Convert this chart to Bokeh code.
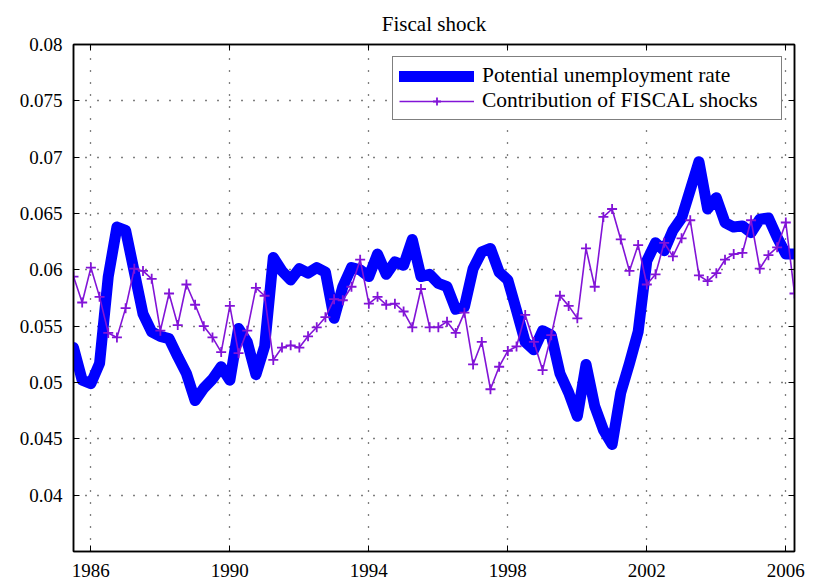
import numpy as np
from bokeh.plotting import figure
from bokeh.models import (FixedTicker, CustomJSTickFormatter, LinearAxis, Legend,
                          LegendItem, ColumnDataSource)
from bokeh.embed import file_html
from bokeh.resources import INLINE

# Quarterly dates 1985Q3 .. 2006Q2
dates = [1985.5 + 0.25 * i for i in range(84)]

potential_unemployment = [
    0.0531, 0.0502, 0.0499, 0.0517, 0.0594, 0.0638, 0.0635, 0.0598, 0.0561, 0.0545,
    0.0541, 0.0539, 0.0523, 0.0508, 0.0484, 0.0495, 0.0503, 0.0514, 0.0502, 0.0548,
    0.0536, 0.0507, 0.0532, 0.0611, 0.0599, 0.0591, 0.0601, 0.0597, 0.0602, 0.0598,
    0.0557, 0.0585, 0.0602, 0.0600, 0.0594, 0.0614, 0.0596, 0.0607, 0.0604, 0.0627,
    0.0594, 0.0596, 0.0588, 0.0585, 0.0565, 0.0567, 0.0601, 0.0616, 0.0619, 0.0598,
    0.0591, 0.0564, 0.0536, 0.0529, 0.0546, 0.0542, 0.0508, 0.0491, 0.0470, 0.0516,
    0.0479, 0.0458, 0.0445, 0.0491, 0.0517, 0.0545, 0.0608, 0.0624, 0.0617, 0.0635,
    0.0646, 0.0671, 0.0696, 0.0654, 0.0664, 0.0642, 0.0638, 0.0639, 0.0633, 0.0645,
    0.0646, 0.0629, 0.0614, 0.0614,
]

fiscal_contribution = [
    0.0594, 0.0571, 0.0602, 0.0576, 0.0544, 0.0540, 0.0566, 0.0601, 0.0599, 0.0592,
    0.0546, 0.0579, 0.0551, 0.0587, 0.0569, 0.0550, 0.0540, 0.0527, 0.0568, 0.0526,
    0.0546, 0.0584, 0.0577, 0.0520, 0.0531, 0.0533, 0.0531, 0.0541, 0.0549, 0.0558,
    0.0574, 0.0573, 0.0585, 0.0609, 0.0570, 0.0576, 0.0569, 0.0570, 0.0563, 0.0549,
    0.0583, 0.0549, 0.0549, 0.0554, 0.0544, 0.0562, 0.0516, 0.0536, 0.0494, 0.0514,
    0.0528, 0.0532, 0.0560, 0.0536, 0.0511, 0.0542, 0.0577, 0.0568, 0.0557, 0.0619,
    0.0585, 0.0647, 0.0654, 0.0627, 0.0599, 0.0622, 0.0587, 0.0596, 0.0624, 0.0612,
    0.0628, 0.0644, 0.0595, 0.0590, 0.0597, 0.0609, 0.0614, 0.0615, 0.0644, 0.0601,
    0.0613, 0.0620, 0.0642, 0.0579,
]

x_ticks = [1986, 1990, 1994, 1998, 2002, 2006]
y_ticks = [0.04, 0.045, 0.05, 0.055, 0.06, 0.065, 0.07, 0.075, 0.08]

FONT = "Liberation Serif"
BLUE = "#0000FF"
PURPLE = "#8214D7"

src = ColumnDataSource(dict(x=dates, pot=potential_unemployment, fis=fiscal_contribution))

p = figure(frame_width=721, frame_height=507,
           x_range=(1985.5, 2006.25), y_range=(0.035, 0.08),
           output_backend="svg", toolbar_location=None,
           min_border_left=73, min_border_top=44, min_border_right=14, min_border_bottom=20,
           title="Fiscal shock")

p.title.text_font = FONT
p.title.text_font_size = "21px"
p.title.text_font_style = "normal"
p.title.text_color = "black"
p.title.align = "center"
p.title.standoff = 17

p.background_fill_color = "white"
p.border_fill_color = "white"
p.outline_line_color = "black"
p.outline_line_width = 1.5

fmt = CustomJSTickFormatter(code="return String(Math.round(tick*1000)/1000);")

for ax in p.xaxis:
    ax.ticker = FixedTicker(ticks=x_ticks)
    ax.major_label_standoff = 12
for ax in p.yaxis:
    ax.ticker = FixedTicker(ticks=y_ticks)
    ax.formatter = fmt
    ax.major_label_standoff = 11

for ax in list(p.xaxis) + list(p.yaxis):
    ax.major_label_text_font = FONT
    ax.major_label_text_font_size = "19px"
    ax.major_label_text_color = "black"
    ax.axis_line_color = "black"
    ax.axis_line_width = 1.5
    ax.major_tick_in = 6
    ax.major_tick_out = 0
    ax.major_tick_line_color = "black"
    ax.minor_tick_line_color = None

# tick marks on the top and right edges (labels not drawn)
for loc, ticks in (("right", y_ticks), ("above", x_ticks)):
    ax = LinearAxis(ticker=FixedTicker(ticks=ticks), major_label_text_font_size="2px",
                    major_label_text_color=None,
                    axis_line_color="black", axis_line_width=1.5, major_tick_in=6,
                    major_tick_out=0, minor_tick_line_color=None, major_label_standoff=0)
    p.add_layout(ax, loc)

p.xgrid.ticker = FixedTicker(ticks=x_ticks)
p.ygrid.ticker = FixedTicker(ticks=y_ticks)
for g in (p.xgrid, p.ygrid):
    g.grid_line_color = "black"
    g.grid_line_dash = "1 11"
    g.grid_line_width = 1.3
    g.grid_line_alpha = 1.0

l1 = p.line("x", "pot", source=src, line_color=BLUE, line_width=11, line_join="round",
            line_cap="round")
l2 = p.line("x", "fis", source=src, line_color=PURPLE, line_width=1.6)
m2 = p.scatter("x", "fis", source=src, marker="cross", size=10, line_color=PURPLE,
               line_width=1.8)

legend = Legend(items=[LegendItem(label="Potential unemployment rate", renderers=[l1]),
                       LegendItem(label="Contribution of FISCAL shocks", renderers=[l2, m2])],
                location="top_right")
legend.label_text_font = FONT
legend.label_text_font_size = "21.5px"
legend.label_text_color = "black"
legend.border_line_color = "black"
legend.border_line_width = 1.5
legend.background_fill_color = "white"
legend.background_fill_alpha = 1.0
legend.glyph_width = 75
legend.glyph_height = 20
legend.label_height = 20
legend.label_width = 293
legend.label_standoff = 8
legend.padding = 6
legend.spacing = 0
legend.margin = 12
p.add_layout(legend)

open("out.html", "w").write(file_html(p, INLINE))
